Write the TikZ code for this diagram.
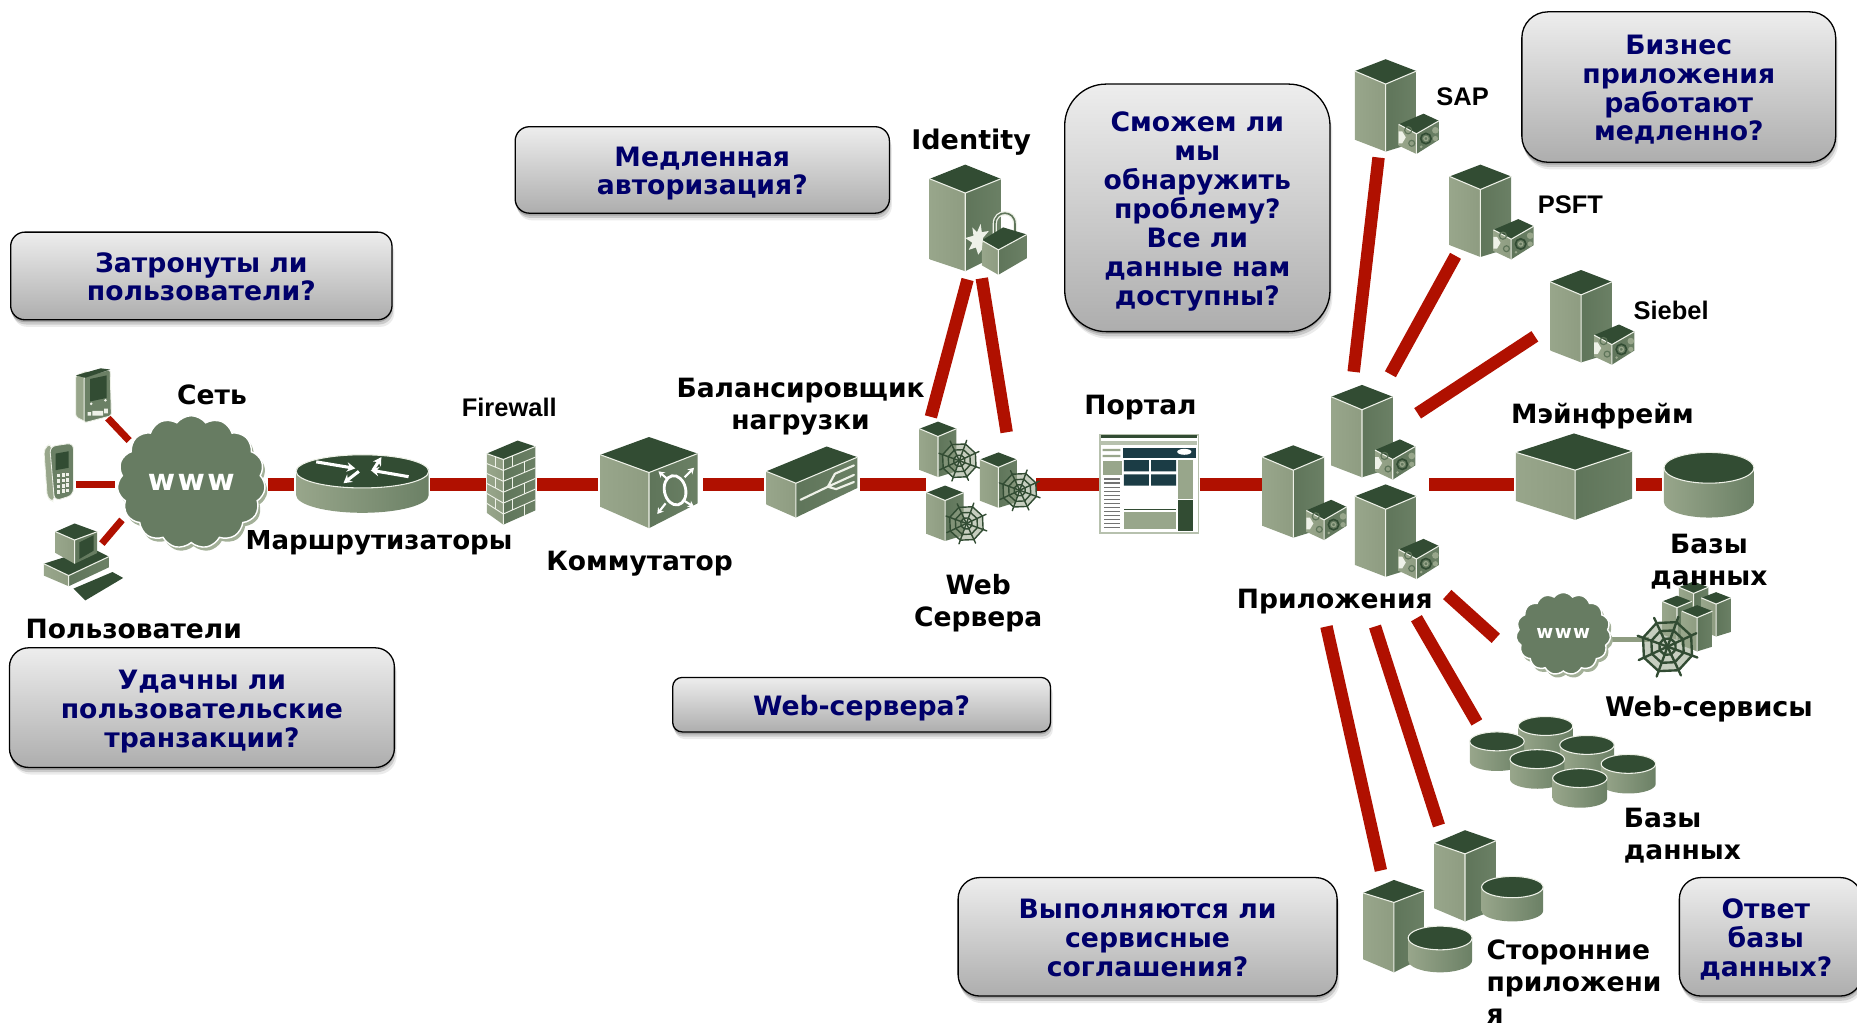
\documentclass[tikz,border=0pt]{standalone}
\usepackage{fontspec}
\setmainfont{DejaVu Sans}
\newfontfamily\arialf{Liberation Sans}
\usetikzlibrary{shadows,shapes.symbols,arrows.meta}
\definecolor{facelight}{HTML}{98A68B}
\definecolor{facelightb}{HTML}{8E9C81}
\definecolor{facemid}{HTML}{5F755A}
\definecolor{facemidb}{HTML}{6B8065}
\definecolor{facedark}{HTML}{324C33}
\definecolor{edgec}{HTML}{EEF1E8}
\definecolor{wirec}{HTML}{B01000}
\definecolor{cloudc}{HTML}{677C62}
\definecolor{cloudsh}{HTML}{A3B098}
\definecolor{qtext}{HTML}{00006A}
\definecolor{teal}{HTML}{1B3C45}
\newcommand{\qa}{\rule{0pt}{24pt}}
\newcommand{\qb}{\rule[-6.2pt]{0pt}{6.2pt}}
\tikzset{
  wire/.style={draw=wirec,line width=10.5pt},
  thinwire/.style={draw=wirec,line width=6pt},
  callout/.style={draw=black,line width=1.1pt,top color=black!7,bottom color=black!32,
    font=\bfseries\fontsize{22.5}{24.4}\selectfont,text=qtext,align=center,inner sep=0pt,
    drop shadow={shadow xshift=0pt,shadow yshift=-2pt,opacity=.18,fill=black},
    drop shadow={shadow xshift=1pt,shadow yshift=-4pt,opacity=.14,fill=black},
    drop shadow={shadow xshift=2pt,shadow yshift=-6pt,opacity=.08,fill=black}},
  lbl/.style={font=\bfseries\fontsize{22.4}{27}\selectfont,text=black,align=center,inner sep=0pt},
  lblleft/.style={lbl,align=left,anchor=north west},
  arlbl/.style={font=\arialf\bfseries\fontsize{21.5}{26}\selectfont,text=black,inner sep=0pt},
  cloudy/.style={cloud,cloud puffs=15,cloud puff arc=105,aspect=1,inner sep=0pt,
    fill=cloudc,draw=white,line width=1.2pt,text=white,
    general shadow={shadow xshift=2pt,shadow yshift=-3pt,fill=cloudsh}},
  rarrow/.style={draw=white,line width=2.6pt,-{Stealth[length=7pt,width=8pt]}},
  sharrow/.style={draw=white,line width=1.8pt,-{Stealth[length=5pt,width=6pt]}},
  facesep/.style={draw=edgec,line width=.9pt,line join=round}
}
\newcommand{\isobox}[7]{%
  \path[left color=facelight,right color=facelightb] (#2)--(#3)--(#6)--(#5)--cycle;
  \path[left color=facemid,right color=facemidb] (#3)--(#4)--(#7)--(#6)--cycle;
  \path[fill=facedark] (#1)--(#2)--(#3)--(#4)--cycle;
  \draw[facesep] (#2)--(#3)--(#4) (#3)--(#6);
}
\newcommand{\dbcyl}[5]{% cx cy rx ry bodyheight
  \path[left color=facelight,right color=facemidb]
    (#1-#3,#2) -- (#1-#3,#2+#5) arc[start angle=180,end angle=360,x radius=#3,y radius=-#4]
    -- (#1+#3,#2) arc[start angle=0,end angle=180,x radius=#3,y radius=#4] -- cycle;
  \draw[fill=facedark,draw=edgec,line width=.9pt] (#1,#2) ellipse[x radius=#3,y radius=#4];
}
\newcommand{\tower}[3]{%
  \begin{scope}[shift={(#1,#2)},scale=#3]
    \isobox{0,0}{-26,10}{0,21}{26,10}{-26,68}{0,78}{26,70}
  \end{scope}}
\newcommand{\apptower}[2]{%
  \begin{scope}[shift={(#1,#2)}]
    \isobox{0,0}{-26,10}{0,21}{26,10}{-26,68}{0,78}{26,70}
    \isobox{32,46}{11,55}{26,63}{45,52}{11,73}{26,80}{45,68}
    \fill[edgec] (11,61) -- (14,61) -- (17,66) -- (14,71) -- (11,71) -- cycle;
    \draw[facemid,line width=1pt] (19,60) circle[radius=3];
    \draw[facemid,line width=1pt] (22,71) circle[radius=2.5];
    \draw[facedark,line width=1.4pt] (34,67) circle[radius=4.4];
    \draw[facelight,line width=1pt] (34,67) circle[radius=1.8];
    \fill[facelight] (42,60) circle[radius=2.8] (42,67) circle[radius=2.2] (30,74) circle[radius=1.2];
  \end{scope}}
\newcommand{\spiderweb}[4]{%
  \begin{scope}[shift={(#1,#2)},line width=#4,draw=facedark,line cap=round]
    \fill[facelight,opacity=.55] plot[samples at={20,65,110,155,200,245,290,335}] (\x:#3) -- cycle;
    \foreach \a in {20,65,110,155,200,245,290,335}
      \draw (0,0) -- (\a:#3*1.22);
    \foreach \rr in {.33,.66,1}
      \draw plot[samples at={20,65,110,155,200,245,290,335,380}] (\x:#3*\rr);
  \end{scope}}
\begin{document}
\begin{tikzpicture}[x=1pt,y=-1pt]
\useasboundingbox (0,0) rectangle (1568,863.8);
% connector ends
\coordinate (w1a) at (91,353); \coordinate (w1b) at (109,372);
\coordinate (w2a) at (64,409); \coordinate (w2b) at (97,409);
\coordinate (w3a) at (103,439); \coordinate (w3b) at (86,459);
\coordinate (m1a) at (226,409); \coordinate (m1b) at (248,409);
\coordinate (m2a) at (363,409); \coordinate (m2b) at (410,409);
\coordinate (m3a) at (453,409); \coordinate (m3b) at (505,409);
\coordinate (m4a) at (594,409); \coordinate (m4b) at (645,409);
\coordinate (m5a) at (726,409); \coordinate (m5b) at (782,409);
\coordinate (m6a) at (875,409); \coordinate (m6b) at (929,409);
\coordinate (m7a) at (1013,409); \coordinate (m7b) at (1066,409);
\coordinate (m8a) at (1207,409); \coordinate (m8b) at (1278,409);
\coordinate (m9a) at (1381,409); \coordinate (m9b) at (1403,409);
\coordinate (i1a) at (817,236); \coordinate (i1b) at (786,352);
\coordinate (i2a) at (829,235); \coordinate (i2b) at (850,365);
\coordinate (s1a) at (1164,133); \coordinate (s1b) at (1143,314);
\coordinate (s2a) at (1229,216); \coordinate (s2b) at (1174,316);
\coordinate (s3a) at (1296,284); \coordinate (s3b) at (1197,349);
\coordinate (d1a) at (1222,502); \coordinate (d1b) at (1263,539);
\coordinate (d2a) at (1196,522); \coordinate (d2b) at (1247,610);
\coordinate (d3a) at (1161,529); \coordinate (d3b) at (1215,697);
\coordinate (d4a) at (1120,529); \coordinate (d4b) at (1166,735);
\coordinate (ws1) at (1358,540); \coordinate (ws2) at (1392,540);
% connectors
\foreach \p in {w1,w2,w3} \draw[thinwire] (\p a) -- (\p b);
\foreach \p in {m1,m2,m3,m4,m5,m6,m7,m8,m9,i1,i2,s1,s2,s3,d1,d2,d3,d4} \draw[wire] (\p a) -- (\p b);
\draw[draw=facelightb,line width=3.5pt] (ws1) -- (ws2);
% PDA
\draw[fill=facelight,draw=edgec,line width=.7pt,rounded corners=2pt] (64,317) -- (74,313) -- (74,357) -- (64,352) -- cycle;
\draw[fill=facemidb,draw=edgec,line width=.7pt,rounded corners=2pt] (71,318) -- (93,312) -- (94,351) -- (71,357) -- cycle;
\path[fill=facedark] (64,317) -- (72,319) -- (93,312) -- (85,311) -- cycle;
\fill[facedark] (76,320) -- (90,317) -- (90,336) -- (76,339) -- cycle;
\fill[edgec] (74,348) rectangle (77,351) (78,347) rectangle (87,351) (88,345) rectangle (91,349);
\fill[edgec] (77,341) circle[radius=1.2] (89,338) circle[radius=1.2];
% cell phone
\draw[fill=facelight,draw=edgec,line width=.7pt,rounded corners=4pt] (37,379) -- (43,374) -- (46,424) -- (40,421) -- cycle;
\draw[fill=facemidb,draw=edgec,line width=.7pt,rounded corners=5pt] (42,377) -- (62,374) -- (62,418) -- (46,423) -- cycle;
\fill[facedark] (47,383) -- (58,381) -- (58,395) -- (47,397) -- cycle;
\foreach \i in {0,1,2} \foreach \j in {0,1,2,3}
  \fill[edgec] ({48+\i*4},{400+\j*4.6-\i*.5}) rectangle ++(2.6,3);
% PC
\isobox{78,463}{37,476}{58,486}{92,470}{37,486}{58,495}{92,479}
\isobox{63,442}{47,449}{63,456}{82,449}{47,467}{63,476}{82,467}
\fill[facedark] (67,458) -- (79,452) -- (79,465) -- (67,472) -- cycle;
\fill[facedark] (62,497) -- (95,483) -- (104,488) -- (72,507) -- cycle;
% main cloud
\node[cloudy,minimum width=125pt,minimum height=108pt,font=\bfseries\fontsize{25}{25}\selectfont\addfontfeature{LetterSpace=8}] (net) at (161.5,407) {www};
% router
\path[left color=facelight,right color=facemidb] (250,396) -- (250,418) arc[start angle=180,end angle=360,x radius=56,y radius=-15] -- (362,396) -- cycle;
\draw[fill=facedark,draw=edgec,line width=.9pt] (306,398) ellipse[x radius=56,y radius=14];
\coordinate (r1a) at (267,390); \coordinate (r1b) at (300,395.5);
\coordinate (r2a) at (315,397); \coordinate (r2b) at (322,386);
\coordinate (r3a) at (345,402.5); \coordinate (r3b) at (313,397);
\coordinate (r4a) at (303,398); \coordinate (r4b) at (290,408);
\foreach \p in {r1,r2,r3,r4} \draw[rarrow] (\p a) -- (\p b);
% firewall
\isobox{437,372}{411,383}{425,388}{452,377}{411,433}{425,443}{452,431}
\begin{scope}[draw=edgec,line width=.8pt]
  \foreach \k in {1,2,3,4,5}{
    \draw ({411},{383+\k*8.4}) -- (425,{388+\k*9.2});
    \draw (425,{388+\k*9.2}) -- (452,{377+\k*9});
  }
  \foreach \k/\xx in {0/433,1/443,2/433,3/443,4/433,5/443}
    \draw (\xx,{388-(\xx-425)*.407+\k*9.1}) -- (\xx,{388-(\xx-425)*.407+(\k+1)*9.1});
  \foreach \k in {0,2,4} \draw (418,{385.5+\k*8.8}) -- (418,{385.5+(\k+1)*8.8});
\end{scope}
% switch
\isobox{548,369}{507,384}{548,399}{589,383}{507,428}{548,446}{589,425}
\draw[draw=white,line width=2.4pt,rotate around={12:(570,414)}] (570,414) ellipse[x radius=9,y radius=12.5];
\coordinate (sa1) at (562,425); \coordinate (sb1) at (555,434);
\coordinate (sa2) at (578,403); \coordinate (sb2) at (586,395);
\coordinate (sa3) at (563,404); \coordinate (sb3) at (556,398);
\coordinate (sa4) at (578,423); \coordinate (sb4) at (586,428);
\foreach \k in {1,2,3,4} \draw[sharrow] (sa\k) -- (sb\k);
% load balancer
\isobox{698,377}{647,398}{672,408}{724,386}{647,426}{672,437}{724,412}
\draw[draw=edgec,line width=1.8pt,line cap=round,line join=round] (676,422) -- (699,411) -- (705,400) -- (721,393) (699,411) -- (721,401) (699,411) -- (706,413) -- (721,407);
% web servers
\tower{792}{356}{.6}
\spiderweb{810}{389}{15}{1.2pt}
\tower{843}{382}{.6}
\spiderweb{861}{414}{15}{1.2pt}
\tower{798}{410}{.6}
\spiderweb{816}{442}{15}{1.2pt}
% portal
\draw[fill=white,draw=facelight!70,line width=1.5pt] (929,367) rectangle (1012,450);
\fill[facedark] (930,367) rectangle (1011,370);
\fill[facelight!70] (930,372) rectangle (1011,376);
\fill[teal] (948,378) rectangle (1010,387);
\fill[white] (1000,381.5) ellipse[x radius=6,y radius=2.5];
\fill[facelight] (931,389) rectangle (947,401);
\fill[facelight] (931,379) rectangle (946,381) (931,384) rectangle (946,386);
\foreach \k in {0,...,12} \fill[black!55] (932,{404+\k*3.4}) rectangle (946,{405+\k*3.4});
\foreach \xa/\xb in {949/970,972/993} \fill[teal] (\xa,388.5) rectangle (\xb,398) (\xa,400.5) rectangle (\xb,410);
\fill[facelight] (995,388) rectangle (1007,421);
\fill[facedark] (995,422) rectangle (1007,448);
\fill[facedark] (949,429.5) rectangle (993,431);
\fill[facelight] (949,432) rectangle (993,447);
% identity
\begin{scope}[shift={(815,139)}]
  \isobox{0,0}{-30,12}{0,24}{30,12}{-30,80}{0,90}{30,75}
  \draw[edgec,line width=3.6pt] (25,62) -- (25,50) .. controls (25,38) and (42,38) .. (42,50) -- (42,58);
  \draw[facemid,line width=1.4pt] (25,62) -- (25,50) .. controls (25,38) and (42,38) .. (42,50) -- (42,58);
  \isobox{32,53}{14,64}{28,72}{52,59}{14,85}{28,93}{52,79}
  \fill[edgec] (13,50) -- (14,57) -- (20,56) -- (15,62) -- (14,72) -- (11,76) -- (9,70) -- (3,72) -- (6,66) -- (0,62) -- (7,60) -- (6,53) -- (10,57) -- cycle;
\end{scope}
% applications
\apptower{1092}{376}
\apptower{1150}{325}
\apptower{1170}{409}
\apptower{1170}{50}
\apptower{1250}{139}
\apptower{1335}{228}
% mainframe and DB
\isobox{1329,366}{1280,382}{1330,397}{1378,381}{1280,423}{1330,439}{1378,421}
\dbcyl{1443}{395}{38}{13}{29}
% web services
\node[cloudy,minimum width=80pt,minimum height=68pt,font=\bfseries\fontsize{15.5}{16}\selectfont\addfontfeature{LetterSpace=8}] (wan) at (1320,535) {www};
\tower{1430}{491}{.48}
\tower{1416}{503}{.48}
\tower{1449}{500}{.48}
\tower{1433}{511}{.5}
\spiderweb{1408}{546}{22}{2pt}
% database group
\dbcyl{1305}{613}{23}{8}{17}
\dbcyl{1264}{626}{23}{8}{17}
\dbcyl{1340}{629}{23}{8}{17}
\dbcyl{1375}{645}{23}{8}{17}
\dbcyl{1298}{641}{23}{8}{17}
\dbcyl{1334}{657}{23}{8}{17}
% third party
\isobox{1237,701}{1211,712}{1237,721}{1263,710}{1211,767}{1237,778}{1263,768}
\dbcyl{1277}{749}{26}{9}{20}
\isobox{1177,743}{1151,754}{1177,762}{1203,752}{1151,810}{1177,821}{1203,808}
\dbcyl{1216}{792}{27}{10}{19}
% questions
\node[callout,minimum width=322pt,minimum height=74pt,rounded corners=12pt] (q1) at (170,233) {\qa Затронуты ли\\пользователи?\qb};
\node[callout,minimum width=325pt,minimum height=101pt,rounded corners=16pt] (q2) at (170.5,597.5) {\qa Удачны ли\\пользовательские\\транзакции?\qb};
\node[callout,minimum width=316pt,minimum height=73pt,rounded corners=12pt] (q3) at (593,143.5) {\qa Медленная\\авторизация?\qb};
\node[callout,minimum width=224pt,minimum height=209pt,rounded corners=35pt] (q4) at (1011,175.5) {\qa Сможем ли\\мы\\обнаружить\\проблему?\\Все ли\\данные нам\\доступны?\qb};
\node[callout,minimum width=265pt,minimum height=127pt,rounded corners=22pt] (q5) at (1417.5,73.5) {\qa Бизнес\\приложения\\работают\\медленно?\qb};
\node[callout,minimum width=319pt,minimum height=46pt,rounded corners=8pt] (q6) at (727.5,595) {\qa Web-сервера?\qb};
\node[callout,minimum width=320pt,minimum height=100pt,rounded corners=18pt] (q7) at (969,791) {\qa Выполняются ли\\сервисные\\соглашения?\qb};
\node[callout,minimum width=154pt,minimum height=100pt,rounded corners=18pt,text width=146pt] (q8) at (1495,791) {\hspace*{-8pt}\qa Ответ\\\hspace*{-8pt}базы\\\hspace*{-8pt}данных?\qb};
% labels
\node[lbl] (l1) at (179,333) {Сеть};
\node[arlbl] (l2) at (430,344) {Firewall};
\node[lbl,font=\bfseries\fontsize{22}{27}\selectfont] (l3) at (320,458) {Маршрутизаторы};
\node[lbl] (l4) at (113,531) {Пользователи};
\node[lbl] (l5) at (540,476) {Коммутатор};
\node[lbl] (l6) at (676,343.5) {Балансировщик\\нагрузки};
\node[lbl,font=\bfseries\fontsize{22.8}{27}\selectfont] (l7) at (820,120) {Identity};
\node[lbl] (l8) at (826,509) {Web\\Сервера};
\node[lbl] (l9) at (963,344) {Портал};
\node[arlbl] (l10) at (1235,82) {SAP};
\node[arlbl] (l11) at (1326,173) {PSFT};
\node[arlbl] (l12) at (1411,262) {Siebel};
\node[lbl] (l13) at (1127,508) {Приложения};
\node[lbl] (l14) at (1353,351) {Мэйнфрейм};
\node[lbl] (l15) at (1443,474.5) {Базы\\данных};
\node[lbl,font=\bfseries\fontsize{22.8}{27}\selectfont] (l16) at (1443,599) {Web-сервисы};
\node[lblleft] (l17) at (1371,682) {Базы\\данных};
\node[lblleft] (l18) at (1255,793) {Сторонние\\приложени\\я};
\end{tikzpicture}
\end{document}
